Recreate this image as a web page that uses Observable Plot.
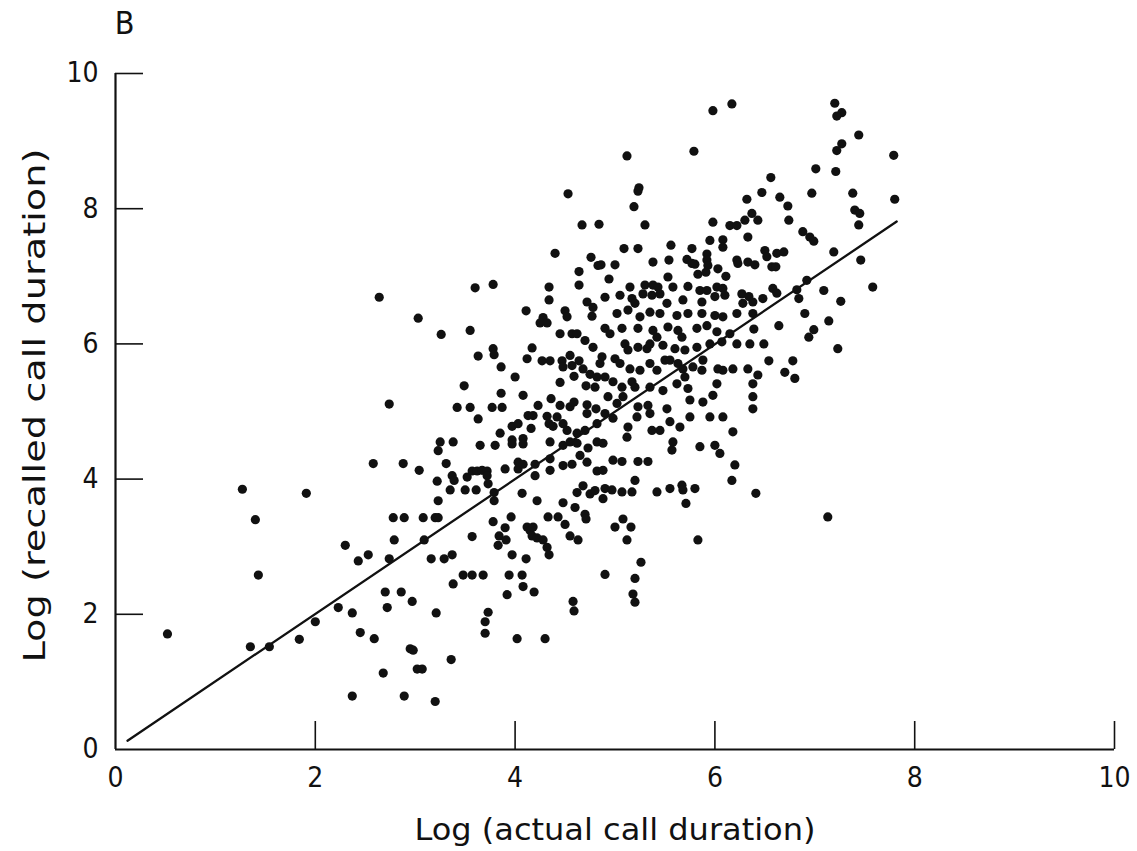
<!DOCTYPE html>
<html><head><meta charset="utf-8">
<script src="https://cdn.jsdelivr.net/npm/d3@7"></script>
<script src="https://cdn.jsdelivr.net/npm/@observablehq/plot@0.6"></script>
<style>
html,body{margin:0;padding:0;background:#fff;}
#chart{width:1137px;height:851px;}
</style></head><body><div id="chart"></div>
<script>
const panelLabel = "B";
const xLabel = "Log (actual call duration)";
const yLabel = "Log (recalled call duration)";
const xTicks = [0, 2, 4, 6, 8, 10];
const yTicks = [0, 2, 4, 6, 8, 10];
const fitX = [0.12, 7.82];
const fitY = [0.13, 7.81];
// [log actual duration, log recalled duration]
const calls = [
[0.52,1.71],[1.27,3.85],[1.91,3.79],[1.40,3.40],[1.43,2.58],[1.35,1.52],[1.54,1.52],[1.84,1.63],[2.00,1.89],[2.23,2.10],[2.30,3.02],[2.37,0.79],[2.89,0.79],[3.20,0.71],
[4.40,7.34],[4.76,7.28],[4.83,7.16],[4.64,7.07],[4.64,6.87],[2.64,6.69],[3.60,6.83],[3.78,6.88],[4.34,6.84],[4.34,6.65],[4.72,6.62],[4.78,6.54],[3.03,6.38],[3.26,6.14],[3.55,6.20],[4.11,6.49],[4.28,6.39],[4.25,6.31],[4.32,6.31],[4.50,6.49],[4.52,6.40],[4.77,6.41],[4.45,6.15],[4.57,6.15],[4.62,6.15],[4.70,6.05],[4.78,5.95],[3.78,5.93],[3.79,5.84],[3.63,5.82],[4.17,5.94],[4.12,5.78],[4.27,5.75],[4.35,5.75],[4.47,5.75],[4.55,5.83],[4.48,5.66],[4.57,5.68],[4.64,5.75],[3.86,5.66],[4.00,5.51],[4.59,5.52],[4.68,5.63],[4.75,5.55],[4.82,5.51],[4.45,5.43],[4.71,5.38],[4.80,5.36],[3.49,5.38],[3.86,5.27],[4.08,5.24],[4.36,5.19],[2.74,5.11],[3.42,5.06],[3.55,5.06],[3.77,5.06],[3.87,5.06],[3.63,4.89],[4.23,5.09],[4.45,5.09],[4.55,5.07],[4.59,5.14],[4.72,5.10],[4.72,4.97],[4.13,4.94],[4.18,4.94],[4.32,4.93],[4.42,4.92],[4.81,5.04],[4.82,4.82],[3.97,4.78],[4.03,4.82],[4.16,4.75],[4.34,4.82],[4.38,4.78],[4.48,4.82],[4.52,4.72],[4.62,4.68],[4.70,4.72],[3.85,4.68],[3.25,4.55],[3.38,4.55],[3.65,4.50],[3.80,4.50],[3.97,4.58],[3.97,4.52],[4.08,4.60],[4.08,4.52],[4.35,4.55],[4.48,4.50],[4.55,4.55],[4.62,4.53],[4.82,4.55],[4.73,4.46],
[3.23,4.42],[2.58,4.23],[2.88,4.23],[3.04,4.13],[3.31,4.23],[3.22,3.97],[3.37,4.05],[3.39,3.98],[3.35,3.84],[3.52,4.03],[3.57,4.12],[3.62,4.12],[3.67,4.13],[3.72,4.12],[3.72,4.05],[3.50,3.84],[3.61,3.84],[3.73,3.93],[3.90,4.15],[4.03,4.25],[4.03,4.15],[4.08,4.22],[4.20,4.22],[4.35,4.30],[4.35,4.13],[4.48,4.20],[4.57,4.22],[4.65,4.35],[4.72,4.25],[4.82,4.12],[4.20,4.05],[4.07,3.79],[3.79,3.80],[3.79,3.68],[4.22,3.68],[4.48,3.65],[4.60,3.58],[4.70,3.48],[4.71,3.41],[4.62,3.80],[4.68,3.90],[4.75,3.78],[4.80,3.83],[3.23,3.68],[2.78,3.43],[2.89,3.43],[3.08,3.43],[3.20,3.43],[3.23,3.43],[3.78,3.37],[3.96,3.44],[3.90,3.28],[3.84,3.16],[3.83,3.02],[3.91,3.10],[4.12,3.29],[4.15,3.24],[4.18,3.29],[4.17,3.16],[4.22,3.13],[4.33,3.44],[4.43,3.44],[4.50,3.33],[4.28,3.10],[4.32,2.99],[4.34,2.88],[4.55,3.16],[4.63,3.10],[2.79,3.10],[3.09,3.10],[3.57,3.15],[2.43,2.79],[2.53,2.88],[2.74,2.82],[3.16,2.82],[3.29,2.82],[3.37,2.88],[3.97,2.88],[4.11,2.82],[3.48,2.58],[3.57,2.58],[3.68,2.58],[3.94,2.58],[4.07,2.58],[3.38,2.45],[4.08,2.41],[4.19,2.33],[3.92,2.29],[2.70,2.33],[2.86,2.33],[2.97,2.19],[2.72,2.10],[3.21,2.02],[2.37,2.02],[3.73,2.03],[3.70,1.89],[3.70,1.72],[4.58,2.19],[4.59,2.05],[2.45,1.73],[2.59,1.64],[4.02,1.64],[4.30,1.64],[2.95,1.49],[2.98,1.47],[3.36,1.33],[3.02,1.19],[3.07,1.19],[2.68,1.13],
[4.53,8.22],[4.67,7.76],[4.84,7.77],[6.17,9.55],[5.98,9.45],[5.12,8.78],[5.79,8.85],[5.24,8.31],[5.23,8.26],[5.19,8.03],[6.32,8.14],[5.30,7.76],[5.98,7.80],[6.15,7.75],[6.22,7.75],[6.30,7.83],[4.86,7.17],[5.00,7.17],[5.09,7.41],[5.23,7.41],[5.56,7.46],[5.77,7.41],[5.95,7.53],[6.08,7.54],[6.08,7.43],[6.33,7.58],[4.94,6.96],[5.38,7.21],[5.54,7.24],[5.72,7.25],[5.77,7.19],[5.80,7.18],[5.92,7.33],[5.92,7.24],[5.93,7.16],[6.03,7.11],[6.11,7.00],[5.83,7.03],[5.91,7.06],[6.22,7.24],[6.23,7.19],[6.33,7.21],[5.53,6.99],[5.58,6.84],[5.15,6.84],[5.30,6.87],[5.38,6.87],[5.43,6.84],[5.73,6.85],[5.85,6.79],[5.92,6.79],[6.02,6.84],[6.08,6.82],[6.27,6.74],[6.34,6.70],[4.90,6.69],[5.05,6.72],
[5.17,6.67],[5.20,6.60],[5.28,6.74],[5.37,6.72],[5.45,6.74],[5.52,6.60],[5.68,6.65],[5.87,6.62],[6.00,6.70],[6.10,6.72],[6.28,6.60],
[5.02,6.45],[5.13,6.50],[5.25,6.40],[5.35,6.47],[5.45,6.45],[5.62,6.42],[5.73,6.45],[5.87,6.45],[6.00,6.42],[6.08,6.40],[6.22,6.45],
[4.90,6.23],[4.95,6.15],[5.07,6.23],[5.23,6.23],[5.38,6.20],[5.42,6.10],[5.53,6.25],[5.63,6.20],[5.67,6.10],[5.82,6.23],[5.92,6.27],[6.02,6.18],[6.15,6.15],
[4.87,5.81],[5.00,5.78],[5.10,6.00],[5.13,5.91],[5.23,5.95],[5.32,5.93],[5.35,6.00],[5.48,5.98],[5.60,5.93],[5.70,5.91],[5.82,5.95],[5.95,6.00],[6.07,6.03],[6.22,6.00],
[4.85,5.71],[4.90,5.51],[5.05,5.71],[5.15,5.63],[5.25,5.61],[5.35,5.71],[5.42,5.61],[5.50,5.76],[5.55,5.76],[5.63,5.71],[5.68,5.63],[5.78,5.66],[5.88,5.76],[5.87,5.61],[6.03,5.63],[6.08,5.61],[6.18,5.63],[6.33,5.63],
[4.98,5.44],[5.07,5.36],[5.17,5.44],[5.20,5.36],[5.35,5.36],[5.48,5.31],[5.62,5.41],[5.70,5.51],[5.73,5.34],[6.02,5.41],
[4.93,5.22],[5.02,5.12],[5.08,5.22],[5.23,5.07],[5.33,5.09],[5.35,4.97],[5.52,5.04],[5.75,5.17],[5.88,5.14],[5.98,5.24],
[4.90,4.97],[4.98,4.90],[5.13,4.77],[5.22,4.92],[5.37,4.72],[5.45,4.72],[5.55,4.85],[5.65,4.77],[5.75,4.92],[5.95,4.92],[6.08,4.92],[6.18,4.70],
[4.88,4.53],[5.12,4.62],[5.58,4.55],[5.57,4.43],[5.85,4.48],[6.00,4.50],[6.05,4.38],[6.20,4.21],
[4.88,4.13],[4.98,4.28],[5.07,4.26],[5.23,4.26],[5.33,4.26],[6.17,3.98],[5.20,3.98],
[4.90,3.86],[4.97,3.84],[5.07,3.81],[5.17,3.81],[5.42,3.81],[5.55,3.86],[5.67,3.91],[5.68,3.84],[5.80,3.86],[4.88,3.71],
[5.71,3.64],[5.08,3.41],[5.00,3.29],[5.16,3.29],[5.12,3.10],[5.83,3.10],[5.26,2.77],[4.90,2.59],[5.20,2.53],[5.18,2.30],[5.20,2.18],
[7.20,9.56],[7.27,9.42],[7.22,9.37],[7.44,9.09],[7.27,8.96],[7.22,8.86],[7.79,8.79],[7.01,8.59],[7.21,8.55],[6.56,8.46],[6.47,8.24],[6.97,8.23],[7.38,8.23],[6.65,8.17],[6.73,8.04],[7.80,8.14],[6.37,7.93],[6.43,7.83],[6.74,7.83],[7.40,7.98],[7.45,7.93],[7.44,7.76],[6.88,7.66],[6.95,7.58],[6.99,7.52],[6.50,7.38],[6.52,7.29],[6.62,7.34],[6.69,7.36],[6.40,7.17],[6.57,7.14],[6.61,7.14],[7.19,7.36],[7.46,7.24],[6.92,6.94],[7.58,6.84],[6.58,6.82],[6.62,6.75],[6.48,6.67],[6.38,6.62],[6.82,6.80],[6.84,6.67],[7.09,6.79],[7.26,6.63],[6.38,6.45],[6.90,6.45],[7.14,6.34],[6.64,6.27],[6.39,6.22],[6.99,6.21],[6.94,6.10],[6.35,6.00],[6.49,6.00],[7.23,5.93],[6.54,5.75],[6.78,5.75],[6.70,5.58],[6.43,5.54],[6.80,5.49],
[6.38,5.41],[6.38,5.22],[6.38,5.04],[6.41,3.79],[7.13,3.44]
];

const fit = fitX.map((x, i) => ({x, y: fitY[i]}));
const ink = "#111";
const font = "'DejaVu Sans Condensed', 'DejaVu Sans', sans-serif";

const chart = Plot.plot({
  width: 1137, height: 851,
  marginLeft: 115, marginRight: 23, marginTop: 73, marginBottom: 102,
  x: {domain: [0, 10]},
  y: {domain: [0, 10]},
  style: {fontFamily: font, fontSize: "28px", color: ink, background: "#fff"},
  marks: [
    Plot.dot(calls, {x: d => d[0], y: d => d[1], r: 4.6, fill: ink, stroke: "none"}),
    Plot.line(fit, {x: "x", y: "y", stroke: ink, strokeWidth: 2.3}),
    Plot.ruleX([0], {stroke: ink, strokeWidth: 2.2}),
    Plot.ruleY([0], {stroke: ink, strokeWidth: 2.2}),
    Plot.ruleX(xTicks.filter(d => d > 0), {x: d => d, y1: 0, y2: 0, insetTop: -28, stroke: ink, strokeWidth: 1.6}),
    Plot.ruleY(yTicks.filter(d => d > 0), {y: d => d, x1: 0, x2: 0, insetRight: -28, stroke: ink, strokeWidth: 1.6}),
    Plot.axisX({ticks: xTicks, tickSize: 0, tickPadding: 18, label: null, fontSize: 28, tickFormat: d => String(d)}),
    Plot.axisY({ticks: yTicks, tickSize: 0, tickPadding: 17, label: null, fontSize: 28, tickFormat: d => String(d)}),
    Plot.text([xLabel], {text: d => d, frameAnchor: "bottom", dy: 81, fontSize: 30, lineAnchor: "middle", textAnchor: "middle", fill: ink}),
    Plot.text([yLabel], {text: d => d, frameAnchor: "left", dx: -80, dy: -6, rotate: -90, fontSize: 30, lineAnchor: "middle", textAnchor: "middle", fill: ink}),
    Plot.text([panelLabel], {text: d => d, frameAnchor: "top-left", dx: 9, dy: -50, fontSize: 32, lineAnchor: "middle", textAnchor: "middle", fill: ink})
  ]
});
// stretch the axis titles to the lengths they have in the reference
d3.select(chart).selectAll("text").each(function() {
  const t = this.textContent;
  if (t === xLabel) d3.select(this).attr("textLength", 401).attr("lengthAdjust", "spacingAndGlyphs");
  if (t === yLabel) d3.select(this).attr("textLength", 514).attr("lengthAdjust", "spacingAndGlyphs");
});
document.getElementById("chart").appendChild(chart);
</script>
</body></html>
